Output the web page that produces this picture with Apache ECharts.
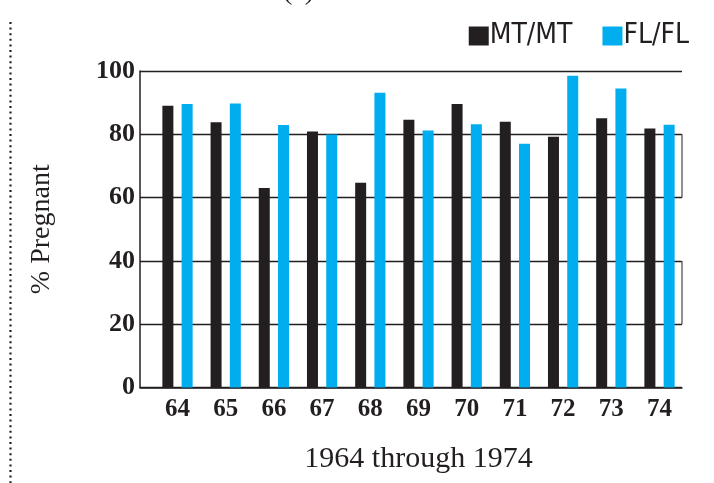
<!DOCTYPE html>
<html>
<head>
<meta charset="utf-8">
<script src="https://cdn.jsdelivr.net/npm/echarts@6/dist/echarts.min.js"></script>
<style>html,body{margin:0;padding:0;background:#fff;}#c{width:714px;height:483px;}</style>
</head>
<body>
<div id="c"></div>
<script>
const years = ['64','65','66','67','68','69','70','71','72','73','74'];
const mtmt = [89.0, 83.8, 63.0, 80.9, 64.7, 84.6, 89.6, 84.0, 79.2, 85.1, 81.8];
const flfl = [89.6, 89.7, 82.9, 79.9, 93.1, 81.2, 83.2, 77.0, 98.5, 94.5, 83.0];
const yTicks = [0, 20, 40, 60, 80, 100];
const rightFrameSegments = [[80, 60], [40, 20]];

const INK = '#231f20';
const BLUE = '#00aeef';

const chart = echarts.init(document.getElementById('c'), null, {renderer: 'canvas'});

const frameSeries = rightFrameSegments.map(seg => ({
  type: 'line', xAxisIndex: 0, yAxisIndex: 0,
  data: [[1, seg[0]], [1, seg[1]]],
  symbol: 'none', silent: true,
  lineStyle: {color: '#555', width: 1.3},
  legendHoverLink: false
}));

chart.setOption({
  animation: false,
  backgroundColor: '#fff',
  graphic: [
    {type: 'line', shape: {x1: 10.5, y1: 22, x2: 10.5, y2: 483},
     style: {stroke: INK, lineWidth: 2.2, lineDash: [2, 3.6]}},
    {type: 'text', left: 283, top: -22,
     style: {text: '(c)', font: '28px "Liberation Serif"', fill: INK}}
  ],
  legend: {
    right: 20, top: 17,
    itemWidth: 20, itemHeight: 19, itemGap: 30,
    icon: 'rect',
    data: ['MT/MT', 'FL/FL'],
    textStyle: {fontFamily: '"Liberation Sans Narrow","DejaVu Sans Condensed",sans-serif', fontSize: 28, color: INK, padding: [2, 0, 0, -4]}
  },
  grid: [
    {left: 140, right: 32, top: 71, bottom: 95.5},
    {left: 153.4, right: 30.4, top: 71, bottom: 95.5}
  ],
  xAxis: [
    {type: 'value', gridIndex: 0, min: 0, max: 1, show: true,
     axisLine: {show: true, onZero: false, lineStyle: {color: INK, width: 1.5}},
     axisTick: {show: false}, axisLabel: {show: false}, splitLine: {show: false}},
    {type: 'category', gridIndex: 1, data: years,
     axisLine: {show: false}, axisTick: {show: false},
     axisLabel: {fontFamily: '"Liberation Serif",serif', fontWeight: 'bold', fontSize: 25, color: INK, margin: 10},
     name: '1964 through 1974', nameLocation: 'middle', nameGap: 57,
     nameTextStyle: {fontFamily: '"Liberation Serif",serif', fontSize: 30, color: INK}},
  ],
  yAxis: [
    {type: 'value', gridIndex: 0, min: 0, max: 100, interval: 20,
     axisLine: {show: true, lineStyle: {color: INK, width: 1.5}},
     axisTick: {show: false},
     axisLabel: {fontFamily: '"Liberation Serif",serif', fontWeight: 'bold', fontSize: 26, color: INK, margin: 5,
       formatter: v => yTicks.includes(v) ? String(v) : ''},
     splitLine: {show: true, lineStyle: {color: INK, width: 1.3}},
     name: '% Pregnant', nameLocation: 'middle', nameGap: 84,
     nameTextStyle: {fontFamily: '"Liberation Serif",serif', fontSize: 28, color: INK}},
    {type: 'value', gridIndex: 1, min: 0, max: 100, show: false}
  ],
  series: [
    {name: 'MT/MT', type: 'bar', xAxisIndex: 1, yAxisIndex: 1, data: mtmt,
     barWidth: 11, barGap: '75%', itemStyle: {color: INK}},
    {name: 'FL/FL', type: 'bar', xAxisIndex: 1, yAxisIndex: 1, data: flfl,
     barWidth: 11, barGap: '75%', itemStyle: {color: BLUE}},
    ...frameSeries
  ]
});
</script>
</body>
</html>
